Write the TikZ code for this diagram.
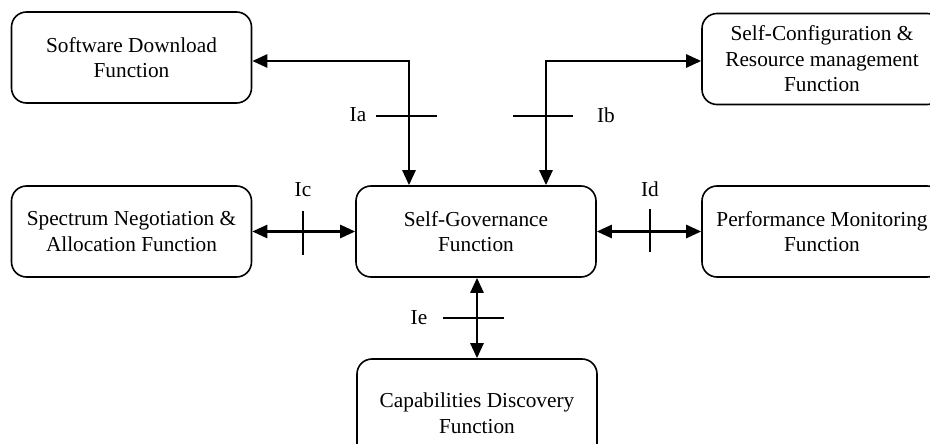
\documentclass[tikz,border=0pt]{standalone}
\usepackage{fontspec}
\setmainfont{Liberation Serif}
\usetikzlibrary{arrows.meta}
\begin{document}
\begin{tikzpicture}[x=1pt,y=-1pt,
  fbox/.style={draw=black,line width=1.6pt,rounded corners=15pt,
    minimum width=240pt,minimum height=91pt,align=center,inner sep=0pt,
    font=\fontsize{21.3}{25.6}\selectfont},
  link/.style={line width=2.6pt,{Triangle[length=15pt,width=13pt]}-{Triangle[length=15pt,width=13pt]}},
  tick/.style={line width=1.4pt},
  lbl/.style={font=\fontsize{21.3}{25.6}\selectfont,inner sep=0pt}]
\useasboundingbox (0,0) rectangle (930,444);
\clip (0,0) rectangle (930,444);
\fill[white] (0,0) rectangle (930,444);

% function blocks
\node[fbox] (sd)  at (131.5,57.5) {Software Download\\Function};
\node[fbox] (sc)  at (822,59)     {Self-Configuration \&\\Resource management\\Function};
\node[fbox] (sna) at (131.5,231.5){Spectrum Negotiation \&\\Allocation Function};
\node[fbox] (sg)  at (476,231.5)  {Self-Governance\\Function};
\node[fbox] (pm)  at (822,231.5)  {Performance Monitoring\\Function};
\node[fbox,minimum height=108pt] (cap) at (477,413) {Capabilities Discovery\\Function};

% bends of the upper links
\coordinate (ka) at (409,61);
\coordinate (kb) at (546,61);
\coordinate (ke) at (477,318);

% links
\draw[link] (sd.east |- ka) -- (ka) -- (ka |- sg.north);
\draw[link] (sg.north -| kb) -- (kb) -- (kb -| sc.west);
\draw[link] (sna.east) -- (sg.west);
\draw[link] (sg.east) -- (pm.west);
\draw[link] (sg.south -| ke) -- (cap.north -| ke);

% interface marks
\coordinate (ta1) at (376,116); \coordinate (ta2) at (437,116);
\coordinate (tb1) at (513,116); \coordinate (tb2) at (573,116);
\coordinate (tc1) at (303,211); \coordinate (tc2) at (303,255);
\coordinate (td1) at (650,209); \coordinate (td2) at (650,252);
\coordinate (te1) at (443,318); \coordinate (te2) at (504,318);
\draw[tick] (ta1) -- (ta2);
\draw[tick] (tb1) -- (tb2);
\draw[tick] (tc1) -- (tc2);
\draw[tick] (td1) -- (td2);
\draw[tick] (te1) -- (te2);

% interface labels
\node[lbl] (la) at (358,115) {Ia};
\node[lbl] (lb) at (606,115) {Ib};
\node[lbl] (lc) at (303,190) {Ic};
\node[lbl] (ld) at (650,189) {Id};
\node[lbl] (le) at (419,318) {Ie};
\end{tikzpicture}
\end{document}
